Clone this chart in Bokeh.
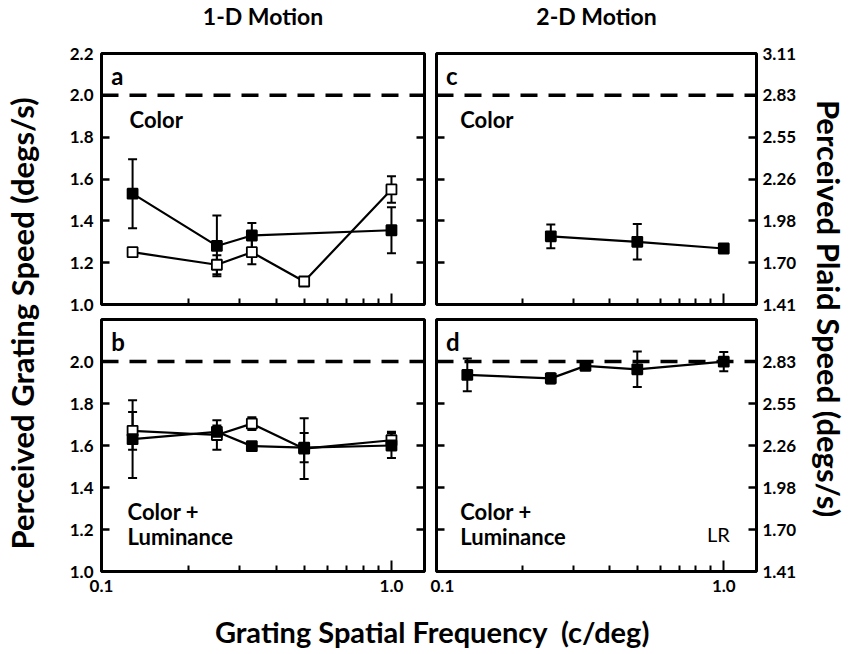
import math
from bokeh.plotting import figure
from bokeh.layouts import row, column
from bokeh.models import (Range1d, LinearAxis, LogAxis, FixedTicker, PrintfTickFormatter,
                          Span, Whisker, ColumnDataSource, Label, TeeHead, CustomLabelingPolicy)
from bokeh.core.properties import value
from bokeh.embed import file_html
from bokeh.resources import INLINE

# ---------------- data ----------------
# panel a : 1-D motion, Color
freq_a_filled = [0.128, 0.25, 0.33, 1.0]
speed_a_filled = [1.53, 1.28, 1.33, 1.355]
err_a_filled = [0.165, 0.145, 0.06, 0.11]
freq_a_open = [0.128, 0.25, 0.33, 0.5, 1.0]
speed_a_open = [1.25, 1.19, 1.25, 1.11, 1.55]
err_a_open = [0.0, 0.045, 0.058, 0.0, 0.063]

# panel b : 1-D motion, Color + Luminance
freq_b_filled = [0.128, 0.25, 0.33, 0.5, 1.0]
speed_b_filled = [1.63, 1.665, 1.597, 1.59, 1.60]
err_b_filled = [0.185, 0.03, 0.0, 0.07, 0.06]
freq_b_open = [0.128, 0.25, 0.33, 0.5, 1.0]
speed_b_open = [1.67, 1.65, 1.704, 1.585, 1.625]
err_b_open = [0.09, 0.07, 0.03, 0.145, 0.04]

# panel c : 2-D motion (plaid), Color
freq_c = [0.25, 0.5, 1.0]
speed_c = [1.875, 1.838, 1.793]
err_c = [0.08, 0.12, 0.0]

# panel d : 2-D motion (plaid), Color + Luminance
freq_d = [0.128, 0.25, 0.33, 0.5, 1.0]
speed_d = [2.738, 2.715, 2.799, 2.776, 2.827]
err_d = [0.11, 0.035, 0.0, 0.12, 0.065]

grating_ref = 2.0
plaid_factor = math.sqrt(2.0)
plaid_ref = grating_ref * plaid_factor

grating_ticks_a = [1.0, 1.2, 1.4, 1.6, 1.8, 2.0, 2.2]
grating_ticks_b = [1.0, 1.2, 1.4, 1.6, 1.8, 2.0]
plaid_ticks_c = [t * plaid_factor for t in grating_ticks_a]
plaid_ticks_d = [t * plaid_factor for t in grating_ticks_b]
grating_range = (1.0, 2.2)
plaid_range = (1.0 * plaid_factor, 2.2 * plaid_factor)
x_major = [0.1, 1.0]
x_minor = [0.2, 0.3, 0.4, 0.5, 0.6, 0.7, 0.8, 0.9]
x_range = (0.1, 1.3)

FONT = value("Lato")
TICK_SIZE = "17px"

HIDE_ALL = "for (const i of indices) { indices.unset(i) }\nreturn indices"


def strip(w, h):
    s = figure(width=w, height=h, x_range=Range1d(0, 1), y_range=Range1d(0, 1),
               toolbar_location=None, output_backend="svg",
               x_axis_location=None, y_axis_location=None,
               min_border_left=0, min_border_right=0, min_border_top=0, min_border_bottom=0)
    s.outline_line_color = None
    s.grid.visible = False
    return s


def hide_labels(ax):
    ax.major_label_policy = CustomLabelingPolicy(code=HIDE_ALL)
    ax.major_label_text_font_size = "1px"
    ax.major_label_standoff = 0


def yaxis(ticks, fmt, labels, standoff):
    ax = LinearAxis(ticker=FixedTicker(ticks=ticks), formatter=PrintfTickFormatter(format=fmt),
                    axis_line_color=None, major_tick_in=8, major_tick_out=0,
                    minor_tick_in=0, minor_tick_out=0, major_tick_line_width=2.5,
                    major_label_text_font="Lato", major_label_text_font_style="bold",
                    major_label_text_color="black",
                    major_label_text_font_size=TICK_SIZE, major_label_standoff=standoff)
    if not labels:
        hide_labels(ax)
    return ax


def xaxis(labels):
    ax = LogAxis(ticker=FixedTicker(ticks=x_major, minor_ticks=x_minor),
                 formatter=PrintfTickFormatter(format="%.1f"),
                 axis_line_color=None, major_tick_in=11, major_tick_out=0,
                 minor_tick_in=6, minor_tick_out=0, major_tick_line_width=2,
                 minor_tick_line_width=2,
                 major_label_text_font="Lato", major_label_text_font_style="bold",
                 major_label_text_color="black",
                 major_label_text_font_size=TICK_SIZE, major_label_standoff=8)
    if not labels:
        hide_labels(ax)
    return ax


def panel(w, h, mbl, mbr, mbt, mbb, yr, ref):
    p = figure(width=w, height=h, x_axis_type="log", x_range=Range1d(*x_range),
               y_range=Range1d(*yr), toolbar_location=None, output_backend="svg",
               x_axis_location=None, y_axis_location=None,
               min_border_left=mbl, min_border_right=mbr,
               min_border_top=mbt, min_border_bottom=mbb)
    p.grid.visible = False
    p.outline_line_color = "black"
    p.outline_line_width = 3
    p.add_layout(Span(location=ref, dimension="width", line_color="black",
                      line_width=3.5, line_dash="17 11"))
    return p


def series(p, xs, ys, es, filled):
    src = ColumnDataSource(dict(x=xs, y=ys, lo=[y - e for y, e in zip(ys, es)],
                                hi=[y + e for y, e in zip(ys, es)]))
    p.add_layout(Whisker(source=src, base="x", lower="lo", upper="hi",
                         line_color="black", line_width=2,
                         upper_head=TeeHead(size=9, line_width=2, line_color="black"),
                         lower_head=TeeHead(size=9, line_width=2, line_color="black")))
    p.line(xs, ys, line_color="black", line_width=2.2)
    p.scatter(xs, ys, marker="square", size=10, line_color="black", line_width=1.8,
              fill_color="black" if filled else "white")


def label(p, x, y, text, size="22px", style="bold", align="left"):
    p.add_layout(Label(x=x, y=y, text=text, text_font="Lato", text_font_style=style,
                       text_font_size=size, text_align=align, text_baseline="middle",
                       text_color="black"))


# ---------------- panels ----------------
pa = panel(390, 285, 61, 6, 23, 11, grating_range, grating_ref)
pa.add_layout(yaxis(grating_ticks_a, "%.1f", True, 8), "left")
pa.add_layout(yaxis(grating_ticks_a, "%.1f", False, 0), "right")
pa.add_layout(xaxis(False), "below")
series(pa, freq_a_open, speed_a_open, err_a_open, False)
series(pa, freq_a_filled, speed_a_filled, err_a_filled, True)
label(pa, 0.108, 2.095, "a", size="24px")
label(pa, 0.125, 1.885, "Color")

pb = panel(390, 286, 61, 6, 4, 30, grating_range, grating_ref)
pb.add_layout(yaxis(grating_ticks_b, "%.1f", True, 8), "left")
pb.add_layout(yaxis(grating_ticks_b, "%.1f", False, 0), "right")
pb.add_layout(xaxis(True), "below")
series(pb, freq_b_open, speed_b_open, err_b_open, False)
series(pb, freq_b_filled, speed_b_filled, err_b_filled, True)
label(pb, 0.108, 2.095, "b", size="24px")
label(pb, 0.123, 1.288, "Color +")
label(pb, 0.123, 1.169, "Luminance")

pc = panel(376, 285, 6, 50, 23, 11, plaid_range, plaid_ref)
pc.add_layout(yaxis(plaid_ticks_c, "%.2f", False, 0), "left")
pc.add_layout(yaxis(plaid_ticks_c, "%.2f", True, 6), "right")
pc.add_layout(xaxis(False), "below")
series(pc, freq_c, speed_c, err_c, True)
label(pc, 0.108, 2.095 * plaid_factor, "c", size="24px")
label(pc, 0.121, 1.885 * plaid_factor, "Color")

pd_ = panel(376, 286, 6, 50, 4, 30, plaid_range, plaid_ref)
pd_.add_layout(yaxis(plaid_ticks_d, "%.2f", False, 0), "left")
pd_.add_layout(yaxis(plaid_ticks_d, "%.2f", True, 6), "right")
pd_.add_layout(xaxis(True), "below")
series(pd_, freq_d, speed_d, err_d, True)
label(pd_, 0.108, 2.095 * plaid_factor, "d", size="24px")
label(pd_, 0.121, 1.288 * plaid_factor, "Color +")
label(pd_, 0.121, 1.169 * plaid_factor, "Luminance")
label(pd_, 1.05, 1.178 * plaid_factor, "LR", size="20px", style="normal", align="right")

# ---------------- titles / axis titles ----------------
TOTAL_W = 858
top = strip(TOTAL_W, 30)
top.text(x=[262.5 / TOTAL_W, 596 / TOTAL_W], y=[0.5, 0.5], text=["1-D Motion", "2-D Motion"],
         text_font=FONT, text_font_style="bold", text_font_size="23px",
         text_align="center", text_baseline="middle", text_color="black")

left = strip(40, 571)
left.text(x=[0.53], y=[0.487], text=["Perceived Grating Speed (degs/s)"], angle=math.pi / 2,
          text_font=FONT, text_font_style="bold", text_font_size="31px",
          text_align="center", text_baseline="middle", text_color="black")

right = strip(52, 571)
right.text(x=[0.44], y=[0.513], text=["Perceived Plaid Speed (degs/s)"], angle=-math.pi / 2,
           text_font=FONT, text_font_style="bold", text_font_size="31px",
           text_align="center", text_baseline="middle", text_color="black")

bottom = strip(TOTAL_W, 50)
bottom.text(x=[432 / TOTAL_W], y=[0.4], text=["Grating Spatial Frequency \u00a0(c/deg)"],
            text_font=FONT, text_font_style="bold", text_font_size="29px",
            text_align="center", text_baseline="middle", text_color="black")

layout = column(top, row(left, column(pa, pb), column(pc, pd_), right), bottom)

open("out.html", "w").write(file_html(layout, INLINE))
